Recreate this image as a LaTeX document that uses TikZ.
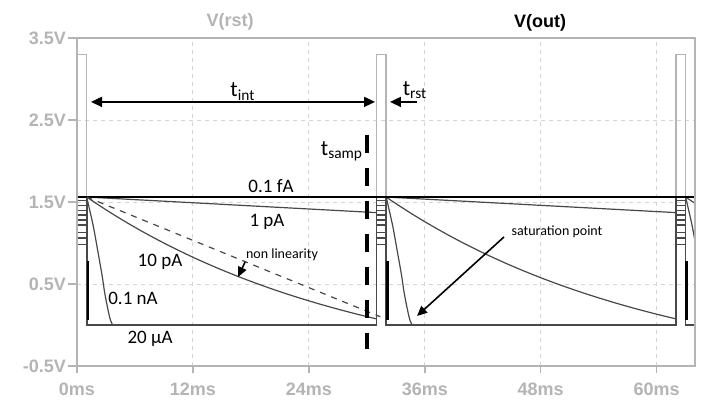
\documentclass[tikz,border=0pt]{standalone}
\usepackage{fontspec}
\setmainfont{Carlito}
\newfontfamily\axisfont{Liberation Sans}
\usetikzlibrary{arrows.meta}

\definecolor{axisgray}{HTML}{B4B4B4}
\definecolor{gridgray}{HTML}{D4D4D4}
\definecolor{tracegray}{HTML}{484848}

\begin{document}
\begin{tikzpicture}[x=4.83pt, y=41pt,
  frame/.style={draw=axisgray, line width=0.8pt},
  gridline/.style={draw=gridgray, dash pattern=on 2pt off 2pt, line width=0.45pt},
  ticklabel/.style={text=axisgray, font=\axisfont\bfseries\fontsize{9}{10}\selectfont, inner sep=0pt},
  rstpulse/.style={draw=axisgray, line width=0.7pt},
  trace/.style={draw=tracegray, line width=0.6pt},
  floor/.style={draw=tracegray, line width=0.85pt},
  flat/.style={draw=black, line width=1.3pt},
  curvelabel/.style={font=\fontsize{9.5}{11}\selectfont, inner sep=0pt, anchor=base},
  note/.style={font=\fontsize{7}{8}\selectfont, inner sep=0pt, anchor=base},
  span/.style={line width=0.85pt},
  callout/.style={-{Triangle[length=5pt,width=4.5pt]}, line width=0.8pt},
  sampline/.style={line width=2pt, dash pattern=on 9pt off 7.5pt}]

  \useasboundingbox (-7.971,-1.061) rectangle (66.563,3.963);

  \foreach \t in {12,24,...,60}
    \draw[gridline] (\t,-0.5) -- (\t,3.5);
  \foreach \v in {0.5,1.5,2.5}
    \draw[gridline] (0,\v) -- (64,\v);

  \foreach \v/\txt [count=\i] in {3.5/3.5V,2.5/2.5V,1.5/1.5V,0.5/0.5V,-0.5/-0.5V} {
    \draw[frame] (-0.9,\v) -- (0,\v);
    \node[ticklabel, anchor=east] (ytick\i) at (-1.1,\v) {\txt};
  }
  \foreach \t [count=\i] in {0,12,...,60} {
    \draw[frame] (\t,-0.5) -- (\t,-0.585);
    \node[ticklabel] (xtick\i) at (\t,-0.78) {\t ms};
  }

  \node[ticklabel] (rsttitle) at (15.84,3.695) {V(rst)};
  \node[ticklabel, text=black] (outtitle) at (47.93,3.68) {V(out)};

  \foreach \p in {0,31,62}
    \draw[rstpulse] (\p,0) -- (\p,3.3) -- (\p+1,3.3) -- (\p+1,0);

  \begin{scope}
    \clip (0,-0.5) rectangle (64,3.5);
    \foreach \s in {1,32,63} {
      \begin{scope}[shift={(\s,0)}]
        \draw[trace] (-1,0) -- (-1,1.56);
        \foreach \v in {1.52,1.46,1.40,1.34,1.28,1.22,1.13,1.06,0.98}
          \draw[trace] (-1,\v) -- (0,\v);
        \draw[trace] (0,1.56) -- (30,1.37);
        \draw[trace] plot[domain=0:30, samples=50] (\x,{2.26*exp(-\x/28)-0.70});
        \draw[trace] plot[smooth] coordinates {(0,1.56) (0.66,1.22) (1.17,0.89)
          (1.59,0.61) (1.9,0.37) (2.4,0.085) (2.7,0)};
        \draw[floor] (0,1.56) -- (0,0) -- (30,0) -- (30,1.56);
        \draw[flat] (0.12,0.06) -- (0.12,0.78);
      \end{scope}
    }
    \draw[flat] (0,1.56) -- (64,1.56);
    \draw[trace, dashed] (1,1.56) -- (31.4,0.1);
  \end{scope}

  \draw[frame] (0,-0.5) rectangle (64,3.5);

  \coordinate (intL) at (1.45,2.72);
  \coordinate (intR) at (30.85,2.72);
  \draw[span, {Triangle[length=5.5pt,width=5pt]}-{Triangle[length=5.5pt,width=5pt]}] (intL) -- (intR);
  \node[curvelabel, font=\fontsize{11}{12}\selectfont] (lblint) at (17.18,2.78) {t\textsubscript{int}};

  \coordinate (rstFrom) at (35.2,2.72);
  \coordinate (rstTo) at (32.4,2.72);
  \draw[span, -{Triangle[length=5.5pt,width=5pt]}] (rstFrom) -- (rstTo);
  \node[curvelabel, font=\fontsize{11}{12}\selectfont] (lblrst) at (35.0,2.80) {t\textsubscript{rst}};

  \coordinate (sampTop) at (30.02,2.317);
  \coordinate (sampBot) at (30.02,-0.293);
  \draw[sampline] (sampTop) -- (sampBot);
  \node[curvelabel, font=\fontsize{11}{12}\selectfont] (lblsamp) at (27.43,2.07) {t\textsubscript{samp}};

  \node[curvelabel] (lblfA) at (20.08,1.613) {0.1 fA};
  \node[curvelabel] (lblpA) at (19.67,1.195) {1 pA};
  \node[curvelabel] (lbltenpA) at (8.59,0.707) {10 pA};
  \node[curvelabel] (lblnA) at (5.80,0.244) {0.1 nA};
  \node[curvelabel] (lbluA) at (7.56,-0.22) {20 µA};

  \node[note] (lblnonlin) at (21.22,0.805) {non linearity};
  \coordinate (nonlinFrom) at (17.4,0.768);
  \coordinate (nonlinTo) at (16.67,0.585);
  \draw[callout] (nonlinFrom) -- (nonlinTo);

  \node[note] (lblsat) at (49.69,1.085) {saturation point};
  \coordinate (satFrom) at (44.2,1.073);
  \coordinate (satTo) at (35.2,0.11);
  \draw[callout] (satFrom) -- (satTo);
\end{tikzpicture}
\end{document}
